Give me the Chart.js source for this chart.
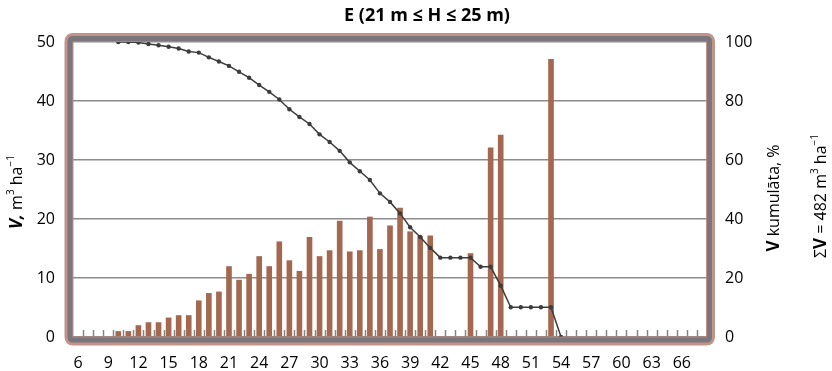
<!DOCTYPE html>
<html>
<head>
<meta charset="utf-8">
<script src="https://cdn.jsdelivr.net/npm/chart.js@4.4.1/dist/chart.umd.min.js"></script>
<style>
    body { margin: 0; background: #fff; }
    canvas { display: block; }
</style>
</head>
<body>
<canvas id="chartVolume" width="832" height="371"></canvas>
<script>
// diameter classes, cm
const classes = [6, 7, 8, 9, 10, 11, 12, 13, 14, 15, 16, 17, 18, 19, 20, 21, 22, 23, 24, 25, 26, 27, 28, 29, 30,
    31, 32, 33, 34, 35, 36, 37, 38, 39, 40, 41, 42, 43, 44, 45, 46, 47, 48, 49, 50, 51, 52, 53, 54, 55, 56, 57,
    58, 59, 60, 61, 62, 63, 64, 65, 66, 67, 68]

// V, m3 ha-1
const volume = [null, null, null, null, 1.0, 1.0, 2.0, 2.5, 2.5, 3.3, 3.7, 3.7, 6.2, 7.45, 7.7, 12.0, 9.7, 10.7,
    13.7, 12.0, 16.2, 13.0, 11.2, 16.95, 13.7, 14.7, 19.7, 14.5, 14.7, 20.4, 14.9, 18.9, 21.9, 17.9, 17.1, 17.2,
    null, null, null, 14.2, null, 32.1, 34.3, null, null, null, null, 47.1, null, null, null, null, null, null,
    null, null, null, null, null, null, null, null, null]

// V kumulata, %
const cumulative = [null, null, null, null, 100, 100, 99.8, 99.3, 98.9, 98.4, 97.8, 96.8, 96.4, 94.8, 93.4, 91.9,
    89.9, 87.9, 85.4, 83.1, 80.5, 77.2, 74.6, 72.2, 68.7, 66.1, 63.1, 59.2, 56.2, 53.2, 48.7, 45.8, 41.9, 37.2,
    33.9, 30.2, 26.9, 26.9, 26.9, 26.9, 23.8, 23.8, 17.4, 10.1, 10.1, 10.1, 10.1, 10.1, 0, null, null, null, null,
    null, null, null, null, null, null, null, null, null, null]

const labelStep = 3
const lastLabel = 66

const FONT = '"Open Sans", "Liberation Sans", sans-serif'

// draw a row of text pieces (bold / superscript) centred on 0,0
function drawParts(ctx, parts) {
    var total = 0
    parts.forEach(p => {
        ctx.font = p.font
        p.w = ctx.measureText(p.t).width
        total += p.w
    })
    var x = -total / 2
    parts.forEach(p => {
        ctx.font = p.font
        ctx.fillText(p.t, x, p.dy || 0)
        x += p.w
    })
}

function vertText(ctx, x, y, parts) {
    ctx.save()
    ctx.translate(x, y)
    ctx.rotate(-Math.PI / 2)
    ctx.textAlign = 'left'
    ctx.textBaseline = 'middle'
    ctx.fillStyle = '#000'
    drawParts(ctx, parts)
    ctx.restore()
}

function roundRect(ctx, x, y, w, h, r) {
    ctx.beginPath()
    ctx.moveTo(x + r, y)
    ctx.lineTo(x + w - r, y)
    ctx.quadraticCurveTo(x + w, y, x + w, y + r)
    ctx.lineTo(x + w, y + h - r)
    ctx.quadraticCurveTo(x + w, y + h, x + w - r, y + h)
    ctx.lineTo(x + r, y + h)
    ctx.quadraticCurveTo(x, y + h, x, y + h - r)
    ctx.lineTo(x, y + r)
    ctx.quadraticCurveTo(x, y, x + r, y)
    ctx.closePath()
}

const decorPlugin = {
    id: 'decor',
    afterDatasetsDraw(chart) {
        const ctx = chart.ctx
        const xs = chart.scales.x
        const a = chart.chartArea
        const half = (xs.getPixelForValue(1) - xs.getPixelForValue(0)) / 2
        // small inner tick marks on the category boundaries
        ctx.save()
        ctx.strokeStyle = '#858585'
        ctx.lineWidth = 1.5
        for (var i = 0; i < classes.length; i++) {
            var px = Math.round(xs.getPixelForValue(i) + half) + 0.5
            ctx.beginPath()
            ctx.moveTo(px, a.bottom - 7)
            ctx.lineTo(px, a.bottom)
            ctx.stroke()
        }
        ctx.restore()
    },
    afterDraw(chart) {
        const ctx = chart.ctx
        const a = chart.chartArea
        // thick frame round the plot area
        ctx.save()
        ctx.strokeStyle = 'rgba(185, 128, 118, 0.85)'
        ctx.lineWidth = 9
        roundRect(ctx, a.left - 4, a.top - 4.5, a.right - a.left + 7.5, a.bottom - a.top + 8.5, 4)
        ctx.stroke()
        ctx.strokeStyle = '#7a767c'
        ctx.lineWidth = 5
        roundRect(ctx, a.left - 3, a.top - 3.5, a.right - a.left + 5.5, a.bottom - a.top + 6.5, 3)
        ctx.stroke()
        ctx.restore()

        // title
        ctx.save()
        ctx.fillStyle = '#000'
        ctx.textAlign = 'center'
        ctx.textBaseline = 'middle'
        ctx.font = 'bold 18px ' + FONT
        ctx.fillText('E (21 m \u2264 H \u2264 25 m)', 427, 16)
        ctx.restore()

        const reg = '16px ' + FONT
        const sup = '10px ' + FONT
        vertText(ctx, 17, 192, [
            { t: 'V,', font: 'italic bold 17px ' + FONT },
            { t: ' m', font: reg },
            { t: '3', font: sup, dy: -6 },
            { t: ' ha', font: reg },
            { t: '\u22121', font: sup, dy: -6 }
        ])
        vertText(ctx, 774, 198, [
            { t: 'V', font: 'bold 17px ' + FONT },
            { t: ' kumul\u0101ta, %', font: reg }
        ])
        vertText(ctx, 821, 196, [
            { t: '\u03a3', font: reg },
            { t: 'V', font: 'bold 17px ' + FONT },
            { t: ' = 482 m', font: reg },
            { t: '3', font: sup, dy: -6 },
            { t: ' ha', font: reg },
            { t: '\u22121', font: sup, dy: -6 }
        ])
    }
}

function displayVolume(ctx) {
    const config = {
        type: 'bar',
        data: {
            labels: classes,
            datasets: [{
                    type: 'line',
                    label: 'V kumulata',
                    data: cumulative,
                    yAxisID: 'y1',
                    borderColor: '#3c3c3c',
                    backgroundColor: '#3c3c3c',
                    borderWidth: 1.5,
                    pointRadius: 2.2,
                    pointBorderWidth: 0,
                    tension: 0,
                    order: 0
                },
                {
                    label: 'V',
                    data: volume,
                    yAxisID: 'y',
                    backgroundColor: '#a3684f',
                    categoryPercentage: 1,
                    barPercentage: 0.56,
                    order: 1
                }
            ]
        },
        options: {
            responsive: false,
            animation: false,
            layout: {
                padding: { top: 42, left: 0, right: 0, bottom: 0 }
            },
            plugins: {
                legend: { display: false },
                tooltip: { enabled: false }
            },
            scales: {
                x: {
                    grid: { display: false, drawTicks: false },
                    border: { display: false },
                    ticks: {
                        autoSkip: false,
                        maxRotation: 0,
                        padding: 17,
                        color: '#000',
                        font: { family: FONT, size: 16 },
                        callback: function(v) {
                            var c = classes[v]
                            return ((c - classes[0]) % labelStep == 0 && c <= lastLabel) ? String(c) : ''
                        }
                    },
                    afterFit: function(s) { s.height = 34 }
                },
                y: {
                    position: 'left',
                    min: 0,
                    max: 50,
                    grid: { color: '#8c8c8c', lineWidth: 1.5, drawTicks: false },
                    border: { display: false },
                    ticks: {
                        stepSize: 10,
                        padding: 18,
                        color: '#000',
                        font: { family: FONT, size: 16 }
                    },
                    afterFit: function(s) { s.width = 73 }
                },
                y1: {
                    position: 'right',
                    min: 0,
                    max: 100,
                    grid: { display: false, drawTicks: false },
                    border: { display: false },
                    ticks: {
                        stepSize: 20,
                        padding: 18,
                        color: '#000',
                        font: { family: FONT, size: 16 }
                    },
                    afterFit: function(s) { s.width = 125 }
                }
            }
        },
        plugins: [decorPlugin]
    };
    var chart = new Chart(ctx, config);
}

displayVolume(document.getElementById('chartVolume'))
</script>
</body>
</html>
